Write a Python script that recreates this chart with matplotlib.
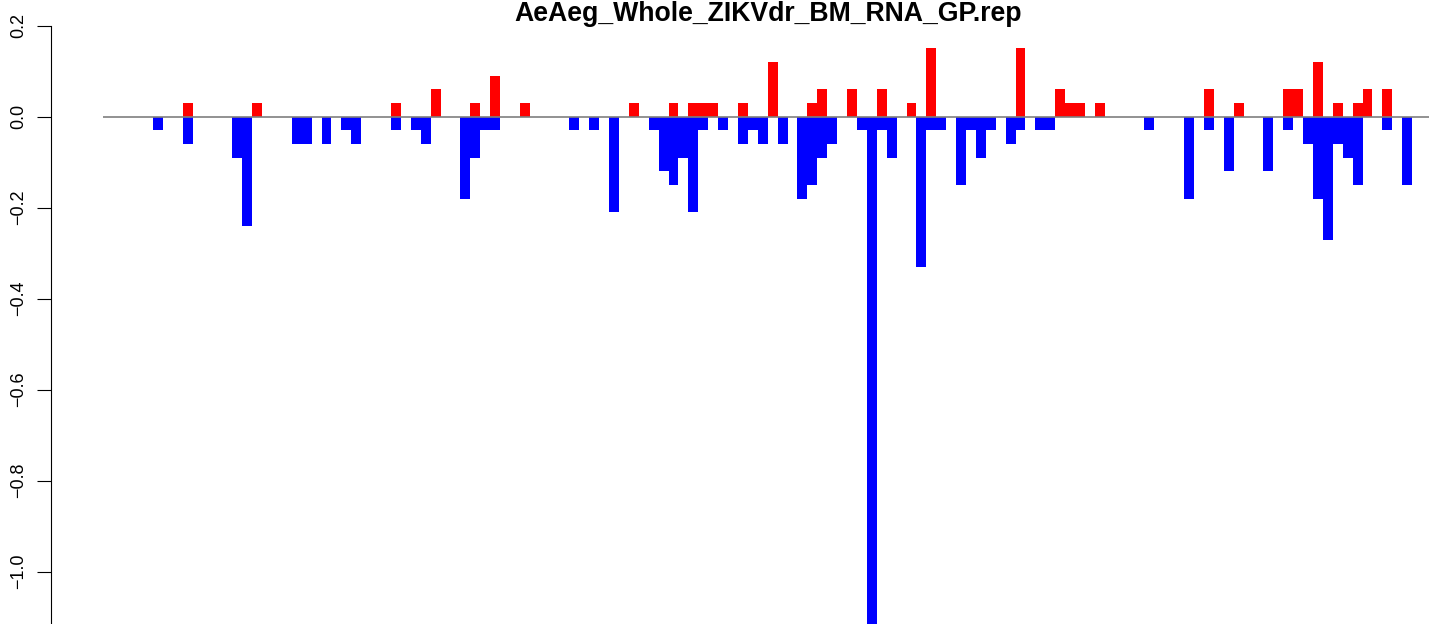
import numpy as np
import matplotlib
matplotlib.use('Agg')
import matplotlib.pyplot as plt

title = 'AeAeg_Whole_ZIKVdr_BM_RNA_GP.rep'

# bins with a positive (red) value
pos_bins = [3, 10, 24, 28, 32, 34, 37, 48, 52, 54, 55, 56, 59, 62, 66, 67, 70, 73,
            76, 78, 87, 91, 92, 93, 95, 106, 109, 114, 115, 117, 119, 121, 122, 124]
pos_vals = [0.03, 0.03, 0.03, 0.06, 0.03, 0.09, 0.03, 0.03, 0.03, 0.03, 0.03, 0.03,
            0.03, 0.12, 0.03, 0.06, 0.06, 0.06, 0.03, 0.15, 0.15, 0.06, 0.03, 0.03,
            0.03, 0.06, 0.03, 0.06, 0.06, 0.12, 0.03, 0.03, 0.06, 0.06]

# bins with a negative (blue) value
neg_bins = [0, 3, 8, 9, 14, 15, 17, 19, 20, 24, 26, 27, 31, 32, 33, 34, 42, 44, 46,
            50, 51, 52, 53, 54, 55, 57, 59, 60, 61, 63, 65, 66, 67, 68, 71, 72, 73,
            74, 77, 78, 79, 81, 82, 83, 84, 86, 87, 89, 90, 100, 104, 106, 108, 112,
            114, 116, 117, 118, 119, 120, 121, 124, 126]
neg_vals = [-0.03, -0.06, -0.09, -0.24, -0.06, -0.06, -0.06, -0.03, -0.06, -0.03,
            -0.03, -0.06, -0.18, -0.09, -0.03, -0.03, -0.03, -0.03, -0.21, -0.03,
            -0.12, -0.15, -0.09, -0.21, -0.03, -0.03, -0.06, -0.03, -0.06, -0.06,
            -0.18, -0.15, -0.09, -0.06, -0.03, -1.15, -0.03, -0.09, -0.33, -0.03,
            -0.03, -0.15, -0.03, -0.09, -0.03, -0.06, -0.03, -0.03, -0.03, -0.03,
            -0.18, -0.03, -0.12, -0.12, -0.03, -0.06, -0.18, -0.27, -0.06, -0.09,
            -0.15, -0.03, -0.15]

plt.rcParams['font.family'] = ['Liberation Sans', 'DejaVu Sans']

fig = plt.figure(figsize=(14.29, 6.24), dpi=100)
ax = fig.add_axes([50.5 / 1429, 0, 1 - 50.5 / 1429, 1])

ax.bar(pos_bins, pos_vals, width=1, align='edge', color='#ff0000', linewidth=0)
ax.bar(neg_bins, neg_vals, width=1, align='edge', color='#0000ff', linewidth=0)
ax.hlines(0, -5.04, 140, color='#7f7f7f', linewidth=1.2, zorder=3)

for s in ['top', 'right', 'bottom']:
    ax.spines[s].set_visible(False)
ax.spines['left'].set_bounds(-1.2, 0.2)
ax.spines['left'].set_linewidth(0.8)
ax.set_xticks([])
ax.set_yticks(np.arange(-1.0, 0.21, 0.2))
ax.tick_params(axis='y', length=9.9, width=0.8, pad=7, labelsize=13, labelrotation=90)
for lab in ax.get_yticklabels():
    lab.set_va('center')

ax.set_xlim(-10.34, 128.7)
ax.set_ylim(-1.115, 0.2565)

fig.text(768 / 1429, 1 - 21 / 624, title, ha='center', va='baseline',
         fontsize=19.2, fontweight='bold')

plt.savefig('out.png', dpi=100)
